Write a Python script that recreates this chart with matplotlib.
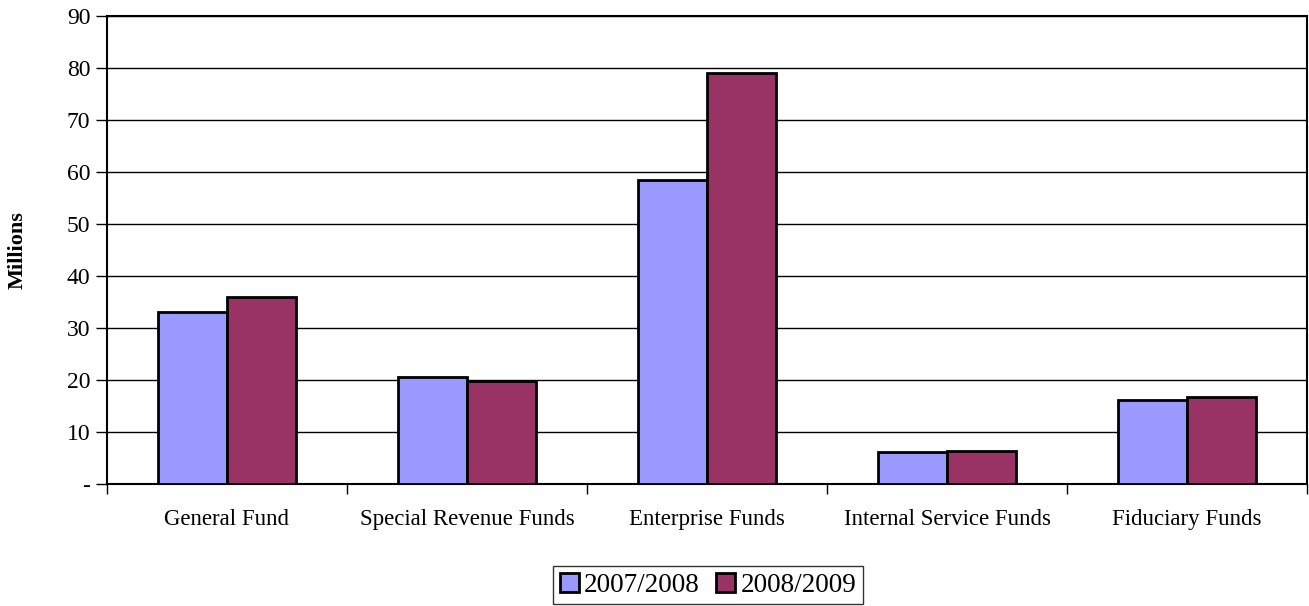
import numpy as np
import matplotlib.pyplot as plt
from matplotlib.ticker import FixedLocator, FuncFormatter

categories = ["General Fund", "Special Revenue Funds", "Enterprise Funds",
              "Internal Service Funds", "Fiduciary Funds"]
fy_2007_2008 = [33.1, 20.6, 58.5, 6.1, 16.2]
fy_2008_2009 = [36.0, 19.8, 79.0, 6.3, 16.7]
series_labels = ["2007/2008", "2008/2009"]
colors = ["#9999ff", "#993366"]

plt.rcParams['font.family'] = ['Liberation Serif', 'DejaVu Serif']

fig = plt.figure(figsize=(13.09, 6.06), dpi=100)
ax = fig.add_axes([107 / 1309, 1 - 484 / 606, 1200 / 1309, 468 / 606])

x = np.arange(len(categories))
w = 1 / 3.5
ax.bar(x - w / 2, fy_2007_2008, w, color=colors[0], edgecolor='black',
       linewidth=2, label=series_labels[0], zorder=3)
ax.bar(x + w / 2, fy_2008_2009, w, color=colors[1], edgecolor='black',
       linewidth=2, label=series_labels[1], zorder=3)

ax.set_xlim(-0.5, len(categories) - 0.5)
ax.set_ylim(0, 90)
ax.set_yticks(np.arange(0, 91, 10))
ax.yaxis.set_major_formatter(FuncFormatter(lambda v, p: '-' if v == 0 else f'{v:.0f}'))
ax.yaxis.grid(True, color='black', linewidth=1, zorder=0)
ax.set_axisbelow(True)

ax.xaxis.set_major_locator(FixedLocator(np.arange(-0.5, len(categories), 1)))
ax.xaxis.set_minor_locator(FixedLocator(x))
ax.set_xticklabels([])
ax.set_xticklabels(categories, minor=True)
ax.tick_params(axis='x', which='major', direction='out', length=7, width=1)
ax.tick_params(axis='x', which='minor', length=0, pad=18, labelsize=16.5)
ax.tick_params(axis='y', direction='out', length=8, width=1, labelsize=17, pad=4)

for s in ax.spines.values():
    s.set_linewidth(1.5)
    s.set_color('black')

ax.set_ylabel("Millions", fontsize=16, fontweight='bold')
ax.yaxis.set_label_coords(-0.066, 0.5)

leg = fig.legend(loc='center', bbox_to_anchor=(708 / 1309, 1 - 585 / 606),
                 ncol=2, frameon=True, fontsize=19.5, handlelength=0.7,
                 handleheight=0.7, handletextpad=0.2, columnspacing=0.6,
                 borderpad=0.25, fancybox=False, borderaxespad=0)
leg.get_frame().set_edgecolor('black')
leg.get_frame().set_linewidth(1)

fig.savefig("out.png", dpi=100)
